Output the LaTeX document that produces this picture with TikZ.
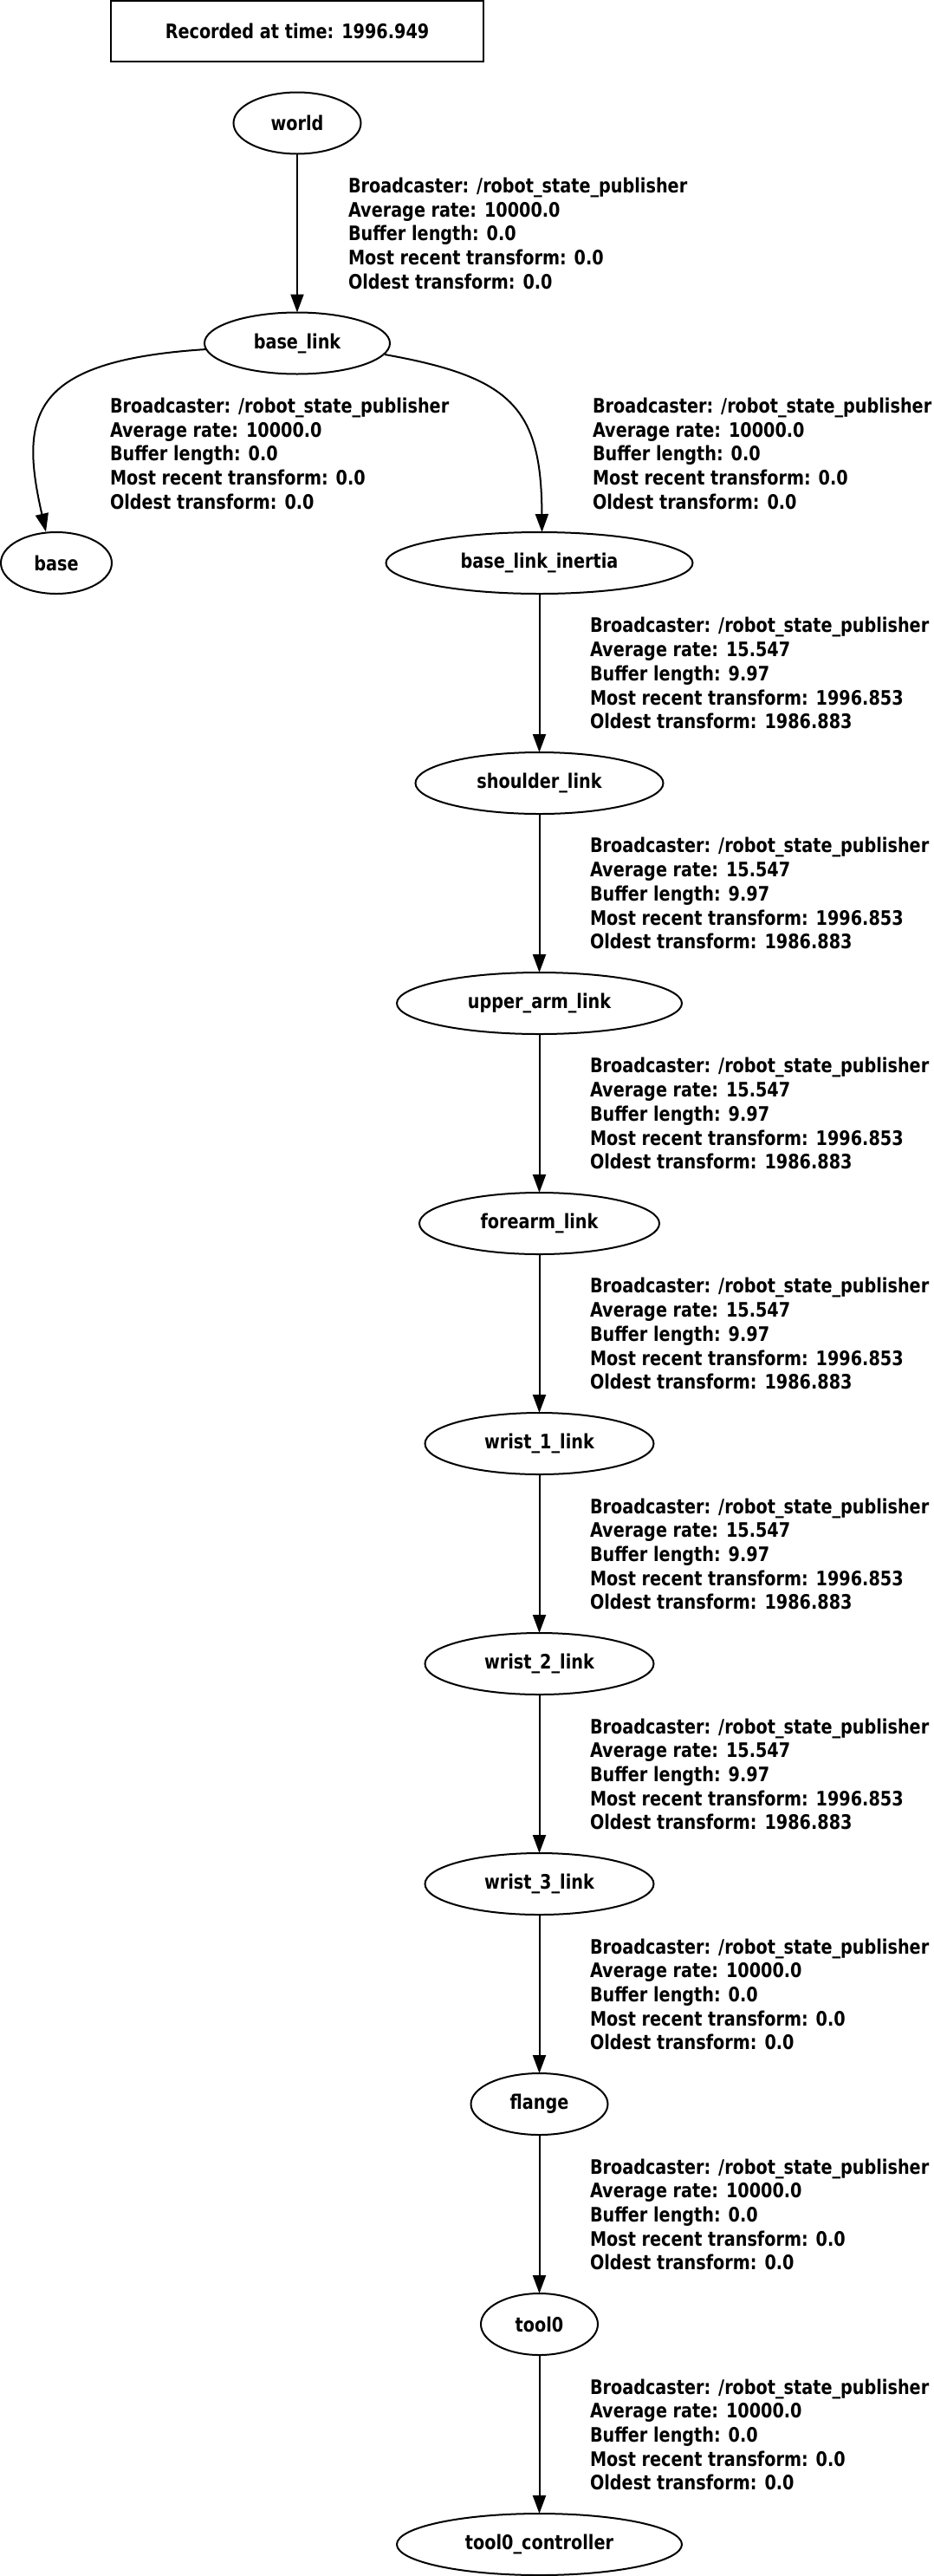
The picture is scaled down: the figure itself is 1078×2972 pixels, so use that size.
\documentclass[tikz,border=0pt]{standalone}
\usepackage{fontspec}
\setmainfont{DejaVu Sans}[FakeStretch=0.836]
\usetikzlibrary{arrows.meta,shapes.geometric}
\newcommand\gvfont{\bfseries\fontsize{23}{27.7}\selectfont}
% text of one transform edge: rate, buffer, most recent, oldest
\newcommand\tfinfo[4]{Broadcaster: /robot\_state\_publisher\\Average rate: #1\\Buffer length: #2\\Most recent transform: #3\\Oldest transform: #4}
\begin{document}
\begin{tikzpicture}[x=1pt,y=1pt,
  frame/.style={draw,line width=2pt,inner sep=0pt,outer sep=0pt,minimum width=430pt,minimum height=70pt,font=\gvfont},
  tfnode/.style={ellipse,draw,line width=2pt,inner sep=0pt,outer sep=0pt,minimum height=71pt,font=\gvfont},
  tfedge/.style={line width=2pt,-{Triangle[length=21pt,width=15pt]}},
  infobox/.style={anchor=north west,align=left,inner sep=0pt,outer sep=0pt,font=\gvfont}]
\useasboundingbox (0,0) rectangle (1078,-2972);

% title
\node[frame] (stamp) at (343,-36) {Recorded at time: 1996.949};

% frames
\node[tfnode,minimum width=147pt] (world) at (343,-142) {world};
\node[tfnode,minimum width=214pt] (bl) at (343,-396) {base\_link};
\node[tfnode,minimum width=128pt] (base) at (65,-649.5) {base};
\node[tfnode,minimum width=354pt] (bli) at (622.5,-649.5) {base\_link\_inertia};
\node[tfnode,minimum width=286pt] (shoulder) at (622.5,-903.5) {shoulder\_link};
\node[tfnode,minimum width=329pt] (upper) at (622.5,-1157.5) {upper\_arm\_link};
\node[tfnode,minimum width=277pt] (forearm) at (622.5,-1411.5) {forearm\_link};
\node[tfnode,minimum width=264pt] (w1) at (622.5,-1665.5) {wrist\_1\_link};
\node[tfnode,minimum width=264pt] (w2) at (622.5,-1919.5) {wrist\_2\_link};
\node[tfnode,minimum width=264pt] (w3) at (622.5,-2173.5) {wrist\_3\_link};
\node[tfnode,minimum width=158pt] (flange) at (622.5,-2427.5) {flange};
\node[tfnode,minimum width=135pt] (tool) at (622.5,-2681.5) {tool0};
\node[tfnode,minimum width=329pt] (toolc) at (622.5,-2935.5) {tool0\_controller};

% edges
\draw[tfedge] (world) -- (bl);
\draw[tfedge] ([xshift=2pt,yshift=-7pt]bl.west) .. controls (35,-416) and (22,-478) .. ([xshift=-12pt,yshift=0.5pt]base.north);
\draw[tfedge] ([xshift=-6pt,yshift=-13pt]bl.east) .. controls (590,-435) and (625,-470) .. ([xshift=3pt]bli.north);
\draw[tfedge] (bli) -- (shoulder);
\draw[tfedge] (shoulder) -- (upper);
\draw[tfedge] (upper) -- (forearm);
\draw[tfedge] (forearm) -- (w1);
\draw[tfedge] (w1) -- (w2);
\draw[tfedge] (w2) -- (w3);
\draw[tfedge] (w3) -- (flange);
\draw[tfedge] (flange) -- (tool);
\draw[tfedge] (tool) -- (toolc);

% edge labels
\node[infobox] (i0) at (402,-205) {\tfinfo{10000.0}{0.0}{0.0}{0.0}};
\node[infobox] (i1) at (127,-459) {\tfinfo{10000.0}{0.0}{0.0}{0.0}};
\node[infobox] (i2) at (684,-459) {\tfinfo{10000.0}{0.0}{0.0}{0.0}};
\node[infobox] (i3) at (681,-712.5) {\tfinfo{15.547}{9.97}{1996.853}{1986.883}};
\node[infobox] (i4) at (681,-966.5) {\tfinfo{15.547}{9.97}{1996.853}{1986.883}};
\node[infobox] (i5) at (681,-1220.5) {\tfinfo{15.547}{9.97}{1996.853}{1986.883}};
\node[infobox] (i6) at (681,-1474.5) {\tfinfo{15.547}{9.97}{1996.853}{1986.883}};
\node[infobox] (i7) at (681,-1728.5) {\tfinfo{15.547}{9.97}{1996.853}{1986.883}};
\node[infobox] (i8) at (681,-1982.5) {\tfinfo{15.547}{9.97}{1996.853}{1986.883}};
\node[infobox] (i9) at (681,-2236.5) {\tfinfo{10000.0}{0.0}{0.0}{0.0}};
\node[infobox] (i10) at (681,-2490.5) {\tfinfo{10000.0}{0.0}{0.0}{0.0}};
\node[infobox] (i11) at (681,-2744.5) {\tfinfo{10000.0}{0.0}{0.0}{0.0}};
\end{tikzpicture}
\end{document}
